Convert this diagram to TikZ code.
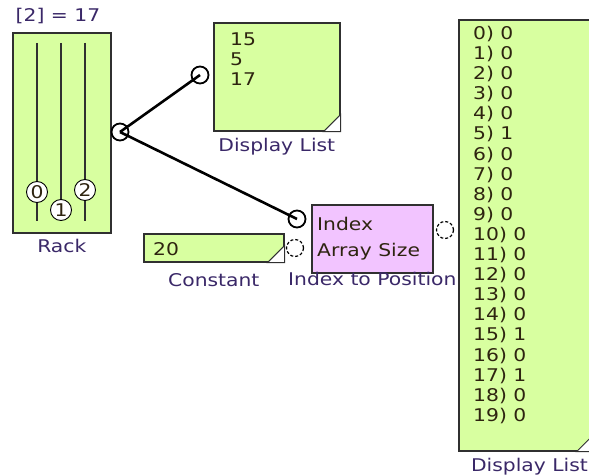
\documentclass[tikz,border=0pt]{standalone}
\usepackage{fontspec}
\setmainfont{DejaVu Sans}[FakeStretch=1.16]
\usepackage{tikz}
\usetikzlibrary{positioning}
\definecolor{blockgreen}{HTML}{D8FFA0}
\definecolor{blockpink}{HTML}{F2C4FF}
\definecolor{labelink}{HTML}{3A2868}
\definecolor{textink}{HTML}{2E2410}
\definecolor{edgegray}{HTML}{303030}

\begin{document}
\begin{tikzpicture}[
  x=1pt, y=-1pt,
  font=\fontsize{17.5}{20}\selectfont,
  greenbox/.style={
    draw=edgegray, line width=1.6pt, fill=blockgreen,
    inner sep=0pt, anchor=north west,
  },
  pinkbox/.style={
    draw=edgegray, line width=1.6pt, fill=blockpink,
    inner sep=0pt, anchor=north west,
  },
  lbl/.style={text=labelink, inner sep=1pt},
  txt/.style={text=textink, inner sep=0pt, anchor=west},
  port/.style={circle, draw=black, line width=1.8pt, fill=white,
    minimum size=17pt, inner sep=0pt},
  openport/.style={port, line width=1.2pt, densely dashed},
  knob/.style={circle, draw=black, line width=0.9pt, fill=white,
    minimum size=21pt, inner sep=0pt, text=textink},
  slider/.style={draw=edgegray, line width=1.4pt},
  wire/.style={draw=black, line width=2.6pt},
  corner/.style={draw=edgegray, line width=1pt, fill=white},
]
\clip (0,0) rectangle (589,476);
\fill[white] (0,0) rectangle (589,476);

% === RACK ===
\node[greenbox, minimum width=98pt, minimum height=200pt] (rack) at (12,32) {};
\node[lbl] (racktitle) at (58,16) {[2] = 17};
\node[lbl, below=4pt of rack] (racklbl) {Rack};
\foreach \x/\k/\y in {37/0/192, 61/1/210, 85/2/190} {
  \draw[slider] (\x,43) -- (\x,221);
  \node[knob] (knob\k) at (\x,\y) {\k};
}
\node[port] (rackout) at (120,132) {};

% === DISPLAY LIST (top) ===
\node[greenbox, minimum width=126pt, minimum height=108pt] (dlist) at (213,22) {};
\foreach \v [count=\n from 0] in {15,5,17}
  \node[txt] (dval\n) at (230,39+20*\n) {\v};
\draw[corner] ([xshift=-17pt]dlist.south east) -- (dlist.south east)
  -- ([yshift=17pt]dlist.south east) -- cycle;
\node[lbl, below=5pt of dlist] (dlistlbl) {Display List};
\node[port] (dlistin) at (200,75) {};

% === CONSTANT ===
\node[greenbox, minimum width=140pt, minimum height=28pt] (const) at (143,233) {};
\node[txt] (constval) at (153,249) {20};
\draw[corner] ([xshift=-17pt]const.south east) -- (const.south east)
  -- ([yshift=17pt]const.south east) -- cycle;
\node[lbl, below=10pt of const] (constlbl) {Constant};

% === INDEX TO POSITION ===
\node[pinkbox, minimum width=121pt, minimum height=68pt] (itp) at (311,204) {};
\node[txt] (itpindex) at (317,224) {Index};
\node[txt] (itpsize) at (317,252) {Array Size};
\node[lbl, below=-3pt of itp] (itplbl) {Index to Position};
\node[port] (itpin) at (297,219) {};
\node[openport] (sizein) at (295,248) {};
\node[openport] (itpout) at (445,230) {};

% === DISPLAY LIST (right) ===
\node[greenbox, minimum width=134pt, minimum height=431pt] (biglist) at (458,19) {};
\foreach \v [count=\n from 0] in {0,0,0,0,0,1,0,0,0,0,0,0,0,0,0,1,0,1,0,0}
  \node[txt] (row\n) at (473,34+20.1*\n) {\n) \v};
\draw[corner] ([xshift=-17pt]biglist.south east) -- (biglist.south east)
  -- ([yshift=17pt]biglist.south east) -- cycle;
\node[lbl, anchor=east] (biglistlbl) at (589,467) {Display List};

% === CONNECTING WIRES ===
\draw[wire] (rackout.center) -- (dlistin.center);
\draw[wire] (rackout.center) -- (itpin.center);

\end{tikzpicture}
\end{document}
